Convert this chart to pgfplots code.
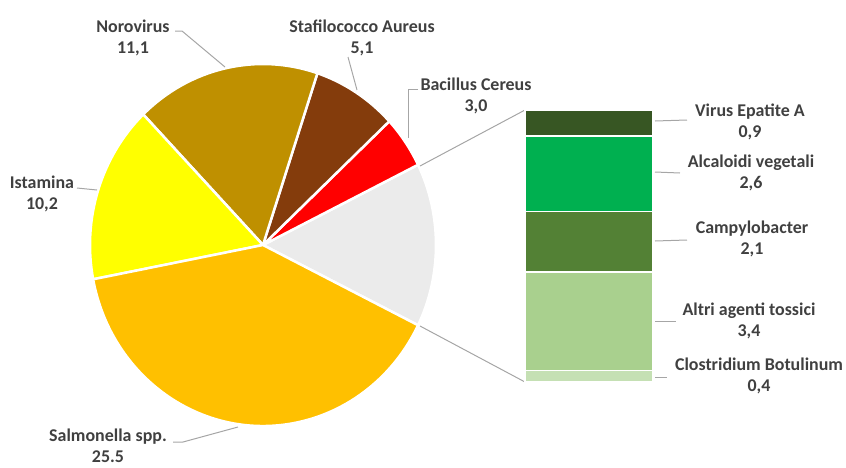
\documentclass[border=0pt]{standalone}
\usepackage{pgfplots}
\pgfplotsset{compat=1.18}
\usepackage{fontspec}
\setmainfont{Carlito}

\definecolor{txt}{HTML}{404040}
\definecolor{lead}{HTML}{A6A6A6}
\definecolor{cSalm}{HTML}{FFC000}
\definecolor{cIsta}{HTML}{FFFF00}
\definecolor{cNoro}{HTML}{BF9000}
\definecolor{cStaf}{HTML}{843C0C}
\definecolor{cBaci}{HTML}{FF0000}
\definecolor{cOther}{HTML}{EBEBEB}
\definecolor{cVirus}{HTML}{375623}
\definecolor{cAlca}{HTML}{00B050}
\definecolor{cCamp}{HTML}{538135}
\definecolor{cAltri}{HTML}{A9D08E}
\definecolor{cClos}{HTML}{C5E0B4}

\begin{document}
\begin{tikzpicture}[
    lbl/.style={align=center, text=txt, font=\fontsize{18}{21}\selectfont\bfseries},
    ldr/.style={draw=lead, line width=1bp},
]
\useasboundingbox (0,0) rectangle (846bp,468bp);

% main canvas: pixel coordinates of the picture, y downwards
\begin{axis}[
    at={(0,0)}, anchor=south west,
    x=1bp, y=1bp,
    xmin=0, xmax=846, ymin=0, ymax=468,
    y dir=reverse,
    hide axis, clip=false,
]
% pie: other (9.4), Bacillus, Stafilococco, Norovirus, Istamina, Salmonella
\def\cx{263}\def\cy{245}\def\rx{173}\def\ry{181}
\def\total{64.3}
\foreach \v/\c [remember=\b as \a (initially -26.31)] in
    {9.4/cOther, 3.0/cBaci, 5.1/cStaf, 11.1/cNoro, 10.2/cIsta, 25.5/cSalm}{
  \pgfmathsetmacro{\b}{\a+\v/\total*360}
  \edef\temp{\noexpand\fill[\c, draw=white, line width=2.5bp]
    (axis cs:\cx,\cy) -- (axis cs:{\cx+\rx*cos(\a)},{\cy-\ry*sin(\a)})
    arc[start angle=\a, end angle=\b, x radius=\rx bp, y radius=\ry bp] -- cycle;}
  \temp
}

% connectors pie -> bar
\draw[ldr] (axis cs:420,166) -- (axis cs:525,110);
\draw[ldr] (axis cs:420,326) -- (axis cs:525,382);

% pie labels
\node[lbl] at (axis cs:133,38) {Norovirus\\11,1};
\draw[ldr] (axis cs:175,31) -- (axis cs:182,31) -- (axis cs:225,67);
\node[lbl] at (axis cs:362,38) {Stafilococco Aureus\\5,1};
\draw[ldr] (axis cs:348,57) -- (axis cs:357,90);
\node[lbl] at (axis cs:476,96) {Bacillus Cereus\\3,0};
\draw[ldr] (axis cs:418,89) -- (axis cs:408,89) -- (axis cs:408,138);
\node[lbl] at (axis cs:42,194) {Istamina\\10,2};
\draw[ldr] (axis cs:77,188) -- (axis cs:97,190);
\node[lbl] at (axis cs:108,446) {Salmonella spp.\\25.5};
\draw[ldr] (axis cs:173,442) -- (axis cs:183,442) -- (axis cs:238,427);

% bar labels
\node[lbl] at (axis cs:750,122) {Virus Epatite A\\0,9};
\draw[ldr] (axis cs:655,121) -- (axis cs:687,120);
\node[lbl] at (axis cs:751,173) {Alcaloidi vegetali\\2,6};
\draw[ldr] (axis cs:655,172) -- (axis cs:680,173);
\node[lbl] at (axis cs:752,239) {Campylobacter\\2,1};
\draw[ldr] (axis cs:655,241) -- (axis cs:687,240);
\node[lbl] at (axis cs:749,321) {Altri agenti tossici\\3,4};
\draw[ldr] (axis cs:655,321) -- (axis cs:676,321);
\node[lbl] at (axis cs:759,376) {Clostridium Botulinum\\0,4};
\draw[ldr] (axis cs:655,377) -- (axis cs:667,377);
\end{axis}

% stacked bar of the "other" slice
\begin{axis}[
    at={(525bp,86bp)}, anchor=south west,
    width=128bp, height=272bp, scale only axis,
    hide axis, clip=false,
    ybar stacked, bar width=128bp,
    xmin=-0.5, xmax=0.5, ymin=0, ymax=9.4,
    enlargelimits=false,
]
\addplot[fill=cClos, draw=white, line width=1.5bp] coordinates {(0,0.4)};
\addplot[fill=cAltri, draw=white, line width=1.5bp] coordinates {(0,3.4)};
\addplot[fill=cCamp, draw=white, line width=1.5bp] coordinates {(0,2.1)};
\addplot[fill=cAlca, draw=white, line width=1.5bp] coordinates {(0,2.6)};
\addplot[fill=cVirus, draw=white, line width=1.5bp] coordinates {(0,0.9)};
\end{axis}
\end{tikzpicture}
\end{document}
